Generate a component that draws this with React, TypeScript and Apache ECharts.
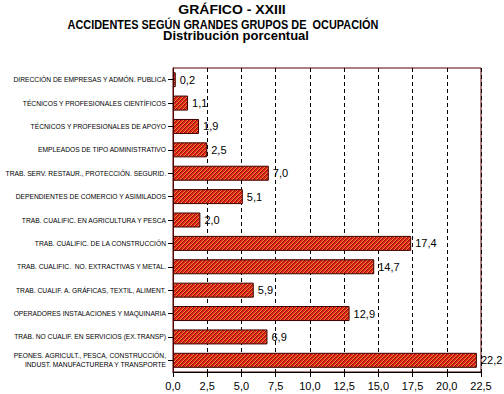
import React, { useEffect, useRef } from "react";
import * as echarts from "echarts";

const categories = [
  "DIRECCIÓN DE EMPRESAS Y ADMÓN. PUBLICA",
  "TÉCNICOS Y PROFESIONALES CIENTÍFICOS",
  "TÉCNICOS Y PROFESIONALES DE APOYO",
  "EMPLEADOS DE TIPO ADMINISTRATIVO",
  "TRAB. SERV. RESTAUR., PROTECCIÓN. SEGURID.",
  "DEPENDIENTES DE COMERCIO Y ASIMILADOS",
  "TRAB. CUALIFIC. EN AGRICULTURA Y PESCA",
  "TRAB. CUALIFIC. DE LA CONSTRUCCIÓN",
  "TRAB. CUALIFIC.  NO. EXTRACTIVAS Y METAL.",
  "TRAB. CUALIF. A. GRÁFICAS, TEXTIL, ALIMENT.",
  "OPERADORES INSTALACIONES Y MAQUINARIA",
  "TRAB. NO CUALIF. EN SERVICIOS (EX.TRANSP)",
  "PEONES. AGRICULT., PESCA, CONSTRUCCIÓN,\nINDUST. MANUFACTURERA Y TRANSPORTE",
];
const values = [0.2, 1.1, 1.9, 2.5, 7.0, 5.1, 2.0, 17.4, 14.7, 5.9, 12.9, 6.9, 22.2];
const titleLines = ["GRÁFICO - XXIII", "ACCIDENTES SEGÚN GRANDES GRUPOS DE  OCUPACIÓN", "Distribución porcentual"];

const fmt = (v: number) => v.toFixed(1).replace(".", ",");

function makePattern(): HTMLCanvasElement {
  const c = document.createElement("canvas");
  c.width = 4;
  c.height = 4;
  const ctx = c.getContext("2d")!;
  const cols = ["#901010", "#e4201a", "#e4201a", "#f08a2a"];
  for (let x = 0; x < 4; x++) {
    for (let y = 0; y < 4; y++) {
      ctx.fillStyle = cols[(x + y) % 4];
      ctx.fillRect(x, y, 1, 1);
    }
  }
  return c;
}

export default function App() {
  const ref = useRef<HTMLDivElement>(null);
  useEffect(() => {
    const chart = echarts.init(ref.current!, undefined, { renderer: "svg" });
    const sans = "'Liberation Sans', Arial, sans-serif";
    const pattern = makePattern();
    chart.setOption({
      animation: false,
      backgroundColor: "#ffffff",
      graphic: [
        { type: "text", x: 232, y: 10, scaleX: 1.08, style: { text: titleLines[0], font: `bold 13px ${sans}`, fill: "#000", align: "center", verticalAlign: "middle" } },
        { type: "text", x: 223, y: 25, scaleX: 0.84, style: { text: titleLines[1], font: `bold 13px ${sans}`, fill: "#000", align: "center", verticalAlign: "middle" } },
        { type: "text", x: 236, y: 35, style: { text: titleLines[2], font: `bold 13px ${sans}`, fill: "#000", align: "center", verticalAlign: "middle" } },
      ],
      grid: {
        left: 173, right: 23, top: 68, bottom: 22,
        outerBoundsMode: "none",
        containLabel: false,
        show: true, borderColor: "#5a0000", borderWidth: 1, backgroundColor: "transparent",
      },
      xAxis: {
        type: "value",
        min: 0,
        max: 22.5,
        interval: 2.5,
        axisLine: { show: true, lineStyle: { color: "#000" } },
        axisTick: { show: true, length: 5, lineStyle: { color: "#000" } },
        axisLabel: { formatter: (v: number) => fmt(v), color: "#000", fontSize: 11, fontFamily: sans, margin: 8 },
        splitLine: { show: true, lineStyle: { color: "#000", type: [4, 3], width: 1 } },
      },
      yAxis: {
        type: "category",
        data: categories,
        inverse: true,
        axisLine: { show: true, lineStyle: { color: "#5a0000" } },
        axisTick: { show: true, length: 5, alignWithLabel: true, lineStyle: { color: "#000" } },
        axisLabel: { color: "#000", fontSize: 6.7, fontFamily: sans, margin: 7, lineHeight: 9, interval: 0 },
      },
      series: [
        {
          type: "bar",
          data: values,
          barWidth: 15,
          itemStyle: {
            color: { image: pattern, repeat: "repeat" },
            borderColor: "#3a0000",
            borderWidth: 1,
          },
          label: {
            show: true,
            position: "right",
            distance: 4,
            formatter: (p: any) => fmt(p.value),
            color: "#000",
            fontSize: 11,
            fontFamily: sans,
          },
        },
      ],
    });
    return () => chart.dispose();
  }, []);
  return <div ref={ref} style={{ width: 504, height: 394, position: "absolute", left: 0, top: 0 }} />;
}
